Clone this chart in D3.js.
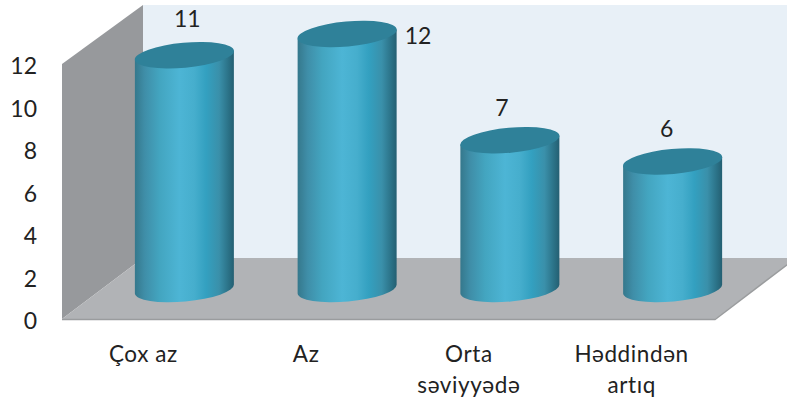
<!DOCTYPE html>
<html>
<head>
<meta charset="utf-8">
<script src="https://cdnjs.cloudflare.com/ajax/libs/d3/7.8.5/d3.min.js"></script>
<style>
  html, body { margin: 0; padding: 0; background: #fff; overflow: hidden; }
  text { font-family: Lato, "Open Sans", sans-serif; fill: #222; }
</style>
</head>
<body>
<div id="chart"></div>
<script>
var categories = [["Çox az"], ["Az"], ["Orta", "səviyyədə"], ["Həddindən", "artıq"]];
var values = [11, 12, 7, 6];
var yTicks = [0, 2, 4, 6, 8, 10, 12];

// the labels were dragged around by hand in the original
var labelNudgeX = [3, 71, -8, -6];
var labelNudgeY = [-37, 1, -33, -34];

var w = 787, h = 404;
var depthX = 81, depthY = -61;
var barDepthX = 41, barDepthY = -30;
var rx = 49.5, ry = 12.5, tilt = 4.5;

var svg = d3.select("#chart").append("svg")
  .attr("width", w)
  .attr("height", h);

var x = d3.scaleBand().domain(d3.range(categories.length)).range([62, 713]);
var y = d3.scaleLinear().domain([0, 12]).range([319, 64]);

var defs = svg.append("defs");
var grad = defs.append("linearGradient").attr("id", "cyl");
[[0, "#35788c"], [0.1, "#3f8ea8"], [0.25, "#43a5c0"], [0.45, "#4db5d5"], [0.6, "#46aecd"],
 [0.72, "#33a0c0"], [0.85, "#3a90aa"], [0.95, "#2a7085"], [1, "#245f72"]].forEach(function(s) {
  grad.append("stop").attr("offset", s[0]).attr("stop-color", s[1]);
});

var line = d3.line();
var x0 = x.range()[0], x1 = 715;

// back wall, side wall, floor
svg.append("path")
  .attr("d", line([[x0 + depthX, y(12) + depthY + 2], [w + 20, y(12) + depthY + 2], [w + 20, y(0) + depthY], [x0 + depthX, y(0) + depthY]]) + "Z")
  .attr("fill", "#e8f0f7");
svg.append("path")
  .attr("d", line([[x0, y(12)], [x0 + depthX, y(12) + depthY + 2], [x0 + depthX, y(0) + depthY], [x0, y(0)]]) + "Z")
  .attr("fill", "#97999c");
svg.append("path")
  .attr("d", line([[x0, y(0)], [x0 + depthX, y(0) + depthY], [x1 + depthX, y(0) + depthY], [x1, y(0)]]) + "Z")
  .attr("fill", "#b1b3b6");
svg.append("path")
  .attr("d", line([[x0, y(0) + 0.5], [x1, y(0) + 0.5], [x1 + depthX, y(0) + depthY]]))
  .attr("fill", "none")
  .attr("stroke", "#9a9c9e")
  .attr("stroke-width", 1.5);

// cylinders
var bars = svg.selectAll(".bar").data(values).enter().append("g").attr("class", "bar");

function cx(d, i) { return x(i) + x.bandwidth() / 2 + barDepthX; }
function ytop(d) { return y(d) + barDepthY; }

bars.append("path")
  .attr("fill", "url(#cyl)")
  .attr("d", function(d, i) {
    var c = cx(d, i), t = ytop(d), b = y(0) + barDepthY;
    return "M" + (c + rx) + "," + (t - tilt) +
      "L" + (c + rx) + "," + (b - tilt) +
      "A" + rx + "," + ry + " -5.2 0 1 " + (c - rx) + "," + (b + tilt) +
      "L" + (c - rx) + "," + (t + tilt) + "Z";
  });

bars.append("ellipse")
  .attr("rx", rx + 0.3)
  .attr("ry", ry)
  .attr("fill", "#2f8199")
  .attr("transform", function(d, i) {
    return "translate(" + cx(d, i) + "," + ytop(d) + ") rotate(-5.2)";
  });

// value labels
svg.selectAll(".val").data(values).enter().append("text")
  .attr("class", "val")
  .attr("text-anchor", "middle")
  .attr("dominant-baseline", "central")
  .attr("font-size", 23)
  .attr("x", function(d, i) { return cx(d, i) + labelNudgeX[i]; })
  .attr("y", function(d, i) { return ytop(d) + labelNudgeY[i]; })
  .text(function(d) { return d; });

// y axis
var yAxis = svg.append("g")
  .attr("transform", "translate(" + x0 + ",0)")
  .call(d3.axisLeft(y).tickValues(yTicks).tickSize(0).tickPadding(25));
yAxis.select(".domain").remove();
yAxis.selectAll("text")
  .attr("font-size", 23)
  .attr("dy", "0.42em")
  .style("font-family", "Lato")
  .style("fill", "#222");

// category labels
var cats = svg.selectAll(".cat").data(categories).enter().append("text")
  .attr("class", "cat")
  .attr("text-anchor", "middle")
  .attr("font-size", 22.5)
  .attr("letter-spacing", 0.6);
cats.selectAll("tspan").data(function(d, i) {
    return d.map(function(t) { return { t: t, i: i }; });
  }).enter().append("tspan")
  .attr("x", function(d) { return x(d.i) + x.bandwidth() / 2; })
  .attr("y", function(d, j) { return 362 + j * 31; })
  .text(function(d) { return d.t; });
</script>
</body>
</html>
